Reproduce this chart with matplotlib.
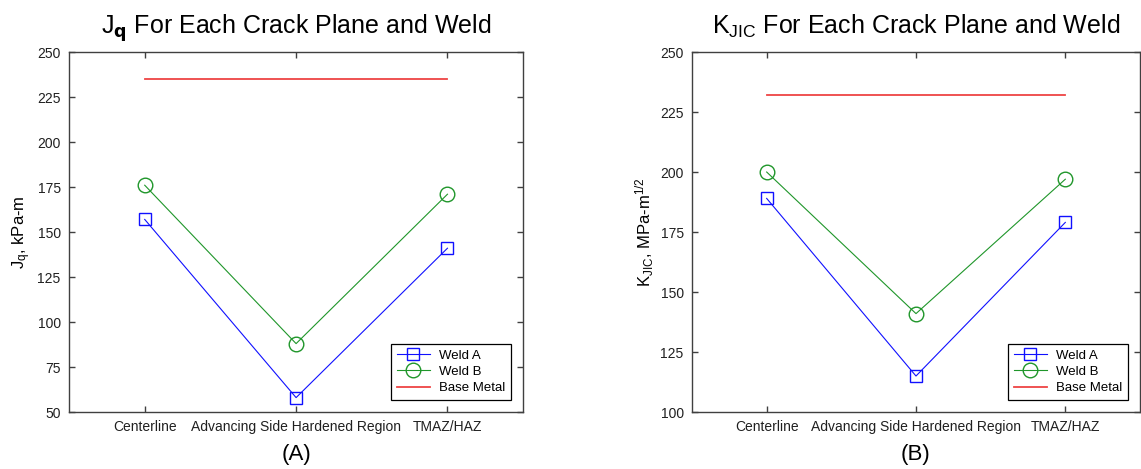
import matplotlib

matplotlib.use("Agg")
import matplotlib.pyplot as plt

plt.rcParams["font.family"] = ["Liberation Sans", "DejaVu Sans"]
plt.rcParams["mathtext.default"] = "regular"

# ── Data ────────────────────────────────────────────────────────────
CATEGORIES = ["Centerline", "Advancing Side Hardened Region", "TMAZ/HAZ"]

JQ_WELD_A = [157, 58, 141]
JQ_WELD_B = [176, 88, 171]
JQ_BASE = [235, 235, 235]

KJIC_WELD_A = [189, 115, 179]
KJIC_WELD_B = [200, 141, 197]
KJIC_BASE = [232, 232, 232]

JQ_TICKS = [50, 75, 100, 125, 150, 175, 200, 225, 250]
KJIC_TICKS = [100, 125, 150, 175, 200, 225, 250]

BLUE = "#1010ff"
GREEN = "#1f962a"
RED = "#ee4444"
SPINE = "#404040"


def draw_panel(ax, weld_a, weld_b, base, yticks, title, ylabel, tag):
    x = list(range(1, len(CATEGORIES) + 1))
    ax.plot(x, weld_a, color=BLUE, lw=0.8, marker="s", ms=8.5,
            mfc="none", mec=BLUE, mew=1.0, label="Weld A")
    ax.plot(x, weld_b, color=GREEN, lw=0.8, marker="o", ms=10.5,
            mfc="none", mec=GREEN, mew=1.0, label="Weld B")
    ax.plot(x, base, color=RED, lw=1.3, label="Base Metal")

    ax.set_xlim(0.5, len(CATEGORIES) + 0.5)
    ax.set_ylim(yticks[0], yticks[-1])
    ax.set_xticks(x)
    ax.set_xticklabels(CATEGORIES)
    ax.set_yticks(yticks)

    for s in ax.spines.values():
        s.set_color(SPINE)
        s.set_linewidth(1.0)
    ax.tick_params(direction="in", length=4, width=1.0, color=SPINE,
                   top=True, right=True, labelcolor="#202020")
    ax.tick_params(axis="x", pad=6, labelsize=10)
    ax.tick_params(axis="y", pad=6, labelsize=10)

    ax.set_title(title, fontsize=18, pad=13)
    ax.set_ylabel(ylabel, fontsize=12, labelpad=3)
    ax.text(0.5, -0.09, tag, transform=ax.transAxes, ha="center",
            va="top", fontsize=16)

    leg = ax.legend(loc="lower right", fontsize=9.5, frameon=True,
                    fancybox=False, framealpha=1, edgecolor="black",
                    borderaxespad=0.9, handlelength=2.5, handletextpad=0.7,
                    labelspacing=0.3, borderpad=0.45)
    leg.get_frame().set_linewidth(0.9)


fig = plt.figure(figsize=(11.41, 4.69), dpi=100)
fig.patch.set_facecolor("white")

ax_a = fig.add_axes([0.0605, 0.1215, 0.398, 0.7676])
ax_b = fig.add_axes([0.6065, 0.1215, 0.3926, 0.7676])

draw_panel(ax_a, JQ_WELD_A, JQ_WELD_B, JQ_BASE, JQ_TICKS,
           r"J$_\mathbf{q}$ For Each Crack Plane and Weld",
           r"J$_q$, kPa-m", "(A)")
draw_panel(ax_b, KJIC_WELD_A, KJIC_WELD_B, KJIC_BASE, KJIC_TICKS,
           r"K$_{JIC}$ For Each Crack Plane and Weld",
           r"K$_{JIC}$, MPa-m$^{1/2}$", "(B)")

fig.savefig("out.png", dpi=100, facecolor="white")
